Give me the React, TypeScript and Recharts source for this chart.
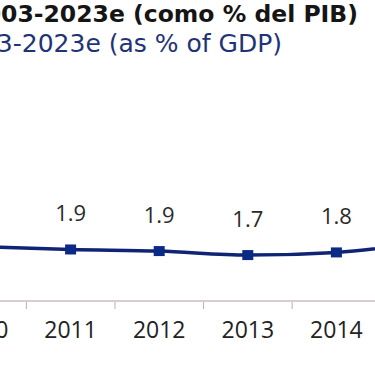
import { LineChart, Line, XAxis, YAxis } from "recharts";

const years = ["2010", "2011", "2012", "2013", "2014", "2015"];
const ratio = [2.04, 1.93, 1.87, 1.72, 1.82, 2.2];

const titleEs = "2003-2023e (como % del PIB)";
const titleEn = "2003-2023e (as % of GDP)";

const FONT = "'Open Sans', 'Noto Sans', sans-serif";
const TITLE_FONT = "'DejaVu Sans', sans-serif";
const STEP = 88.5;
const NAVY = "#0f2474";

const data = years.map((year, i) => ({ year, ratio: ratio[i] }));

function YearTick(props: any) {
  const { x, y, payload } = props;
  return (
    <g>
      <line x1={x - STEP / 2} x2={x - STEP / 2} y1={y + 1} y2={y + 8} stroke="#b9b0b3" strokeWidth={1} />
      <text x={x} y={y + 37} textAnchor="middle" fontSize={23} fill="#222" fontFamily={FONT}>
        {payload.value}
      </text>
    </g>
  );
}

function ValueLabel(props: any) {
  const { x, y, value } = props;
  return (
    <text x={x} y={y - 28.5} textAnchor="middle" fontSize={22} fill="#2a2a2a" fontFamily={FONT}>
      {Number(value).toFixed(1)}
    </text>
  );
}

function SquareDot(props: any) {
  const { cx, cy } = props;
  if (cx == null || cy == null) return null;
  return <rect x={cx - 5.5} y={cy - 5} width={11} height={10} fill="#0b2a86" />;
}

export default function App() {
  return (
    <div
      style={{
        position: "fixed",
        top: 0,
        left: 0,
        width: 375,
        height: 366,
        overflow: "hidden",
        background: "#fff",
      }}
    >
      <svg width={375} height={366} style={{ position: "absolute", left: 0, top: 0 }}>
        <text x={358} y={22} textAnchor="end" fontSize={23.5} fontWeight={700} fill="#151515" fontFamily={TITLE_FONT}>
          {titleEs}
        </text>
        <text x={282} y={51.5} textAnchor="end" fontSize={25} fontWeight={400} fill="#1f3477" fontFamily={TITLE_FONT}>
          {titleEn}
        </text>
      </svg>
      <div style={{ position: "absolute", left: -62, top: 0 }}>
        <LineChart width={531} height={366} data={data} margin={{ top: 34, right: 0, bottom: 0, left: 0 }}>
          <XAxis
            dataKey="year"
            scale="point"
            padding={{ left: 44, right: 44 }}
            height={65}
            axisLine={{ stroke: "#d8ccd0", strokeWidth: 2 }}
            tickLine={false}
            tickSize={0}
            tickMargin={0}
            interval={0}
            tick={<YearTick />}
          />
          <YAxis hide domain={[0, 10]} />
          <Line
            dataKey="ratio"
            type="monotone"
            stroke={NAVY}
            strokeWidth={3.5}
            dot={<SquareDot />}
            activeDot={false}
            label={<ValueLabel />}
            isAnimationActive={false}
          />
        </LineChart>
      </div>
    </div>
  );
}
